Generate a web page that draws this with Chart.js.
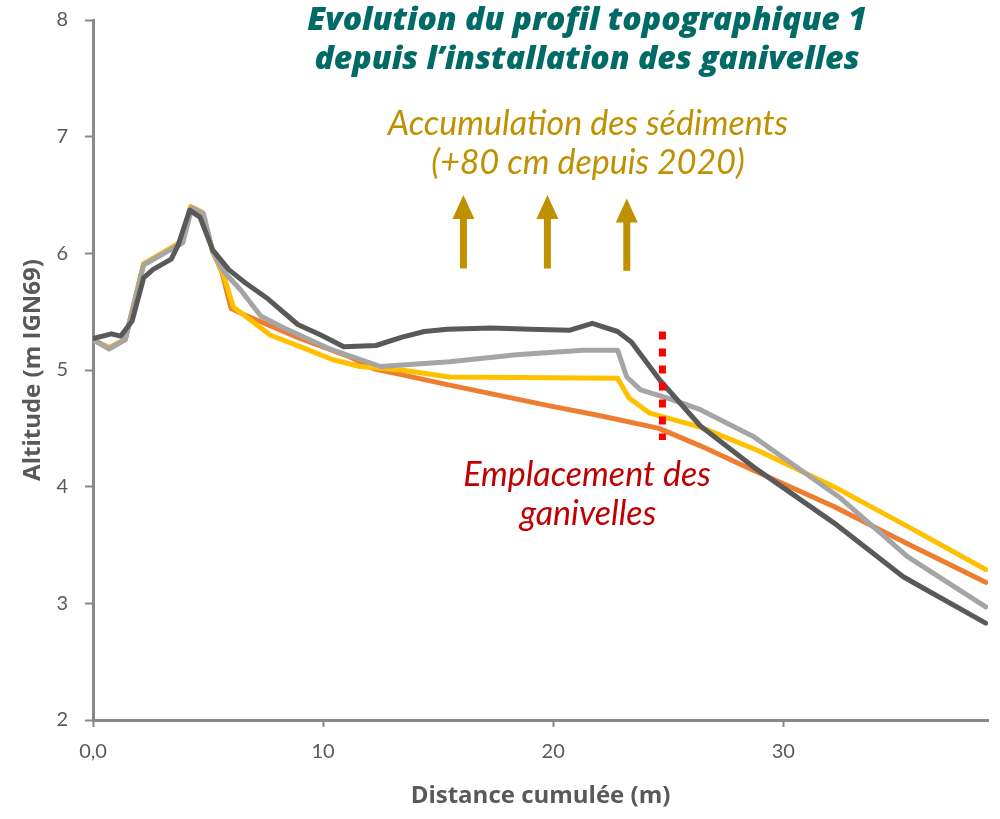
<!DOCTYPE html>
<html>
<head>
<meta charset="utf-8">
<script src="https://cdn.jsdelivr.net/npm/chart.js@4/dist/chart.umd.min.js"></script>
<style>
  html, body { margin: 0; padding: 0; background: #fff; }
  #c { display: block; }
</style>
</head>
<body>
<canvas id="c" width="1000" height="819"></canvas>
<script>
// ---- Data (distance in m, altitude in m IGN69) ----
const darkX  = [0, 0.8, 1.2, 1.7, 2.2, 2.6, 3.4, 3.7, 4.2, 4.65, 5.2, 5.9, 6.6, 7.6, 8.9, 9.9, 10.9, 12.3, 13.4, 14.4, 15.4, 17.3, 19.0, 20.7, 21.7, 22.8, 23.4, 24.65, 26.4, 28.7, 32.2, 35.2, 36.0, 38.8];
const darkY  = [5.27, 5.31, 5.29, 5.42, 5.79, 5.86, 5.95, 6.07, 6.37, 6.31, 6.03, 5.86, 5.75, 5.61, 5.39, 5.30, 5.20, 5.21, 5.28, 5.33, 5.35, 5.36, 5.35, 5.34, 5.40, 5.33, 5.24, 4.91, 4.52, 4.17, 3.69, 3.23, 3.14, 2.83];

const lightX = [0, 0.7, 1.4, 2.2, 3.35, 3.9, 4.3, 4.8, 5.2, 5.7, 6.4, 7.3, 8.3, 10.3, 12.5, 15.5, 18.4, 21.3, 22.8, 23.2, 23.8, 24.8, 25.7, 26.4, 28.7, 32.5, 35.4, 38.8];
const lightY = [5.26, 5.18, 5.26, 5.90, 6.03, 6.09, 6.39, 6.34, 6.01, 5.84, 5.69, 5.46, 5.36, 5.18, 5.03, 5.07, 5.13, 5.17, 5.17, 4.94, 4.83, 4.77, 4.71, 4.66, 4.43, 3.90, 3.40, 2.97];

const yellowX = [0, 0.7, 1.4, 2.2, 3.35, 3.85, 4.25, 4.75, 5.2, 5.65, 6.1, 7.7, 9.0, 10.4, 11.6, 13.4, 15.5, 22.8, 23.3, 24.2, 26.4, 28.9, 32.2, 35.3, 38.8];
const yellowY = [5.26, 5.19, 5.26, 5.91, 6.04, 6.10, 6.40, 6.35, 6.02, 5.83, 5.54, 5.30, 5.20, 5.09, 5.03, 5.00, 4.94, 4.93, 4.76, 4.63, 4.51, 4.31, 4.00, 3.67, 3.29];

const orangeX = [0, 0.7, 1.4, 2.2, 3.35, 3.85, 4.25, 4.75, 5.2, 5.6, 6.0, 6.5, 9.0, 11.2, 12.2, 13.4, 15.5, 19.9, 22.0, 24.6, 26.4, 28.7, 32.2, 35.4, 38.8];
const orangeY = [5.26, 5.19, 5.26, 5.91, 6.04, 6.10, 6.40, 6.35, 6.02, 5.84, 5.53, 5.48, 5.27, 5.11, 5.01, 4.96, 4.87, 4.69, 4.61, 4.50, 4.35, 4.14, 3.83, 3.51, 3.18];

// Fence location (dotted red marker)
const fenceX = [24.75, 24.75];
const fenceY = [5.33, 4.4];

// Accumulation arrows (x position, base, tip)
const arrowX    = [16.1, 19.75, 23.2];
const arrowBase = [5.87, 5.87, 5.85];
const arrowTip  = [6.5, 6.5, 6.47];

// Axis ticks
const xTicks = [0, 10, 20, 30];
const xTickLabels = ['0,0', '10', '20', '30'];
const yTicks = [2, 3, 4, 5, 6, 7, 8];

const pts = (xs, ys) => xs.map((x, i) => ({ x: x, y: ys[i] }));

const FONT = 'Lato, "Open Sans", sans-serif';
const TFONT = '"Open Sans", Lato, sans-serif';
const AX = '#595959';

const overlay = {
  id: 'overlay',
  afterDatasetsDraw(chart) {
    const ctx = chart.ctx;
    const xs = chart.scales.x, ys = chart.scales.y;
    ctx.save();
    ctx.fillStyle = '#BF9000';
    for (let i = 0; i < arrowX.length; i++) {
      const px = xs.getPixelForValue(arrowX[i]);
      const pb = ys.getPixelForValue(arrowBase[i]);
      const pt = ys.getPixelForValue(arrowTip[i]);
      const headH = 24, headW = 11, shaft = 3.5;
      ctx.beginPath();
      ctx.moveTo(px, pt);
      ctx.lineTo(px + headW, pt + headH);
      ctx.lineTo(px + shaft, pt + headH);
      ctx.lineTo(px + shaft, pb);
      ctx.lineTo(px - shaft, pb);
      ctx.lineTo(px - shaft, pt + headH);
      ctx.lineTo(px - headW, pt + headH);
      ctx.closePath();
      ctx.fill();
    }
    ctx.restore();
  },
  afterDraw(chart) {
    const ctx = chart.ctx;
    ctx.save();
    ctx.textAlign = 'center';
    ctx.textBaseline = 'middle';
    ctx.fillStyle = '#006B66';
    ctx.font = 'italic 800 32px ' + TFONT;
    ctx.fillText('Evolution du profil topographique 1', 587, 21);
    ctx.fillText('depuis l\u2019installation des ganivelles', 587, 60);
    ctx.fillStyle = '#BF9000';
    ctx.font = 'italic 400 34px ' + FONT;
    ctx.fillText('Accumulation des sédiments', 588, 124);
    ctx.fillText('(+80 cm depuis 2020)', 588, 163);
    ctx.fillStyle = '#C00000';
    ctx.fillText('Emplacement des', 587, 475);
    ctx.fillText('ganivelles', 588, 514);
    ctx.restore();
  }
};

new Chart(document.getElementById('c'), {
  type: 'line',
  data: {
    datasets: [
      { data: pts(fenceX, fenceY), borderColor: '#FF0000', borderWidth: 7, borderDash: [8, 9], borderCapStyle: 'butt' },
      { data: pts(darkX, darkY), borderColor: '#595959', borderWidth: 5 },
      { data: pts(lightX, lightY), borderColor: '#A5A5A5', borderWidth: 5 },
      { data: pts(yellowX, yellowY), borderColor: '#FFC000', borderWidth: 5 },
      { data: pts(orangeX, orangeY), borderColor: '#ED7D31', borderWidth: 5 }
    ]
  },
  options: {
    responsive: false,
    animation: false,
    events: [],
    layout: { padding: { left: 0, right: 12, top: 20, bottom: 0 } },
    elements: {
      point: { radius: 0 },
      line: { tension: 0, borderCapStyle: 'round', borderJoinStyle: 'round', fill: false }
    },
    plugins: { legend: { display: false }, tooltip: { enabled: false } },
    scales: {
      x: {
        type: 'linear',
        min: 0,
        max: 38.9,
        afterBuildTicks: (s) => { s.ticks = xTicks.map(v => ({ value: v })); },
        afterFit: (s) => { s.height = 99; },
        border: { color: '#898989', width: 3 },
        grid: { drawOnChartArea: false, drawTicks: true, tickLength: 7, tickColor: '#898989', tickWidth: 2 },
        ticks: {
          color: AX,
          font: { family: FONT, size: 20 },
          padding: 13,
          maxRotation: 0,
          callback: (v) => { const i = xTicks.indexOf(v); return i >= 0 ? xTickLabels[i] : ''; }
        },
        title: { display: true, text: 'Distance cumulée (m)', color: AX, font: { family: TFONT, size: 24, weight: 'bold' }, padding: { top: 0, bottom: 8 } }
      },
      y: {
        type: 'linear',
        min: 2,
        max: 8,
        afterBuildTicks: (s) => { s.ticks = yTicks.map(v => ({ value: v })); },
        afterFit: (s) => { s.width = 93; s.paddingTop = 0; s.paddingBottom = 0; },
        border: { color: '#898989', width: 3 },
        grid: { drawOnChartArea: false, drawTicks: true, tickLength: 8, tickColor: '#898989', tickWidth: 2 },
        ticks: { color: AX, font: { family: FONT, size: 20 }, padding: 17 },
        title: { display: true, text: 'Altitude (m IGN69)', color: AX, font: { family: TFONT, size: 24, weight: 'bold' }, padding: { top: 19, bottom: 0 } }
      }
    }
  },
  plugins: [overlay]
});
</script>
</body>
</html>
